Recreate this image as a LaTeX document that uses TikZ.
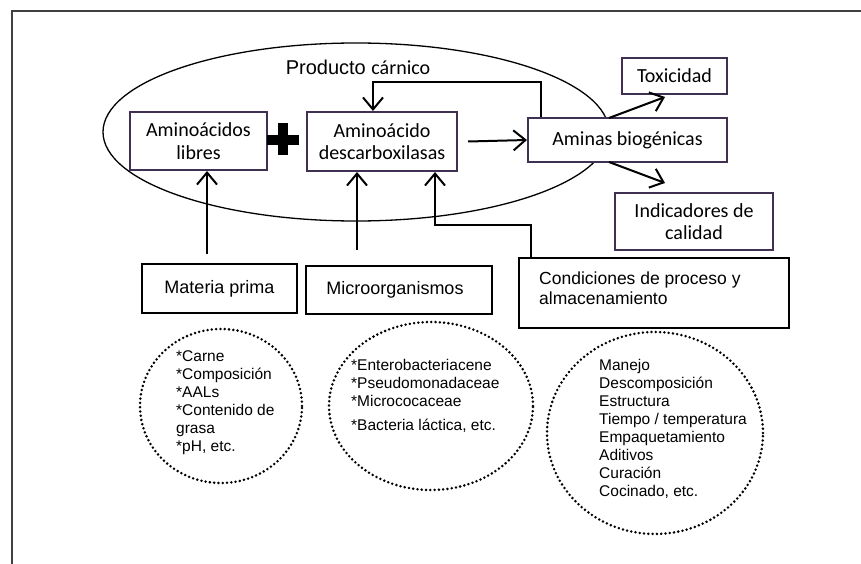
\documentclass[tikz,border=0pt]{standalone}
\usepackage{fontspec}
\setmainfont{Liberation Sans}
\newfontfamily\calfont{Carlito}
\usetikzlibrary{arrows.meta,shapes.geometric,calc}
\definecolor{boxpurple}{RGB}{64,49,82}
\definecolor{framegray}{RGB}{64,64,64}
\begin{document}
\begin{tikzpicture}[x=1pt,y=-1pt,
  topbox/.style={draw=boxpurple, line width=2pt, fill=white, inner sep=0pt, align=center, font=\calfont\fontsize{20}{22.5}\selectfont},
  botbox/.style={draw=black, line width=2pt, fill=white, inner sep=0pt, font=\fontsize{18}{20}\selectfont},
  arr/.style={line width=2pt, -{Straight Barb[length=12pt,width=20pt,line width=2pt]}},
  dots/.style={draw, ellipse, line width=2.8pt, dash pattern=on 0pt off 4.3pt, line cap=round, inner sep=0pt},
  listtext/.style={anchor=north west, inner sep=0pt, align=left, font=\fontsize{15.5}{18}\selectfont}]
\useasboundingbox (0,0) rectangle (861,564);
\draw[framegray, line width=1.5pt] (12,564) -- (12,11) -- (861,11);

% product ellipse
\node[draw, ellipse, line width=1.3pt, minimum width=506pt, minimum height=178pt, inner sep=0pt] (prod) at (356,132) {};
\node[font=\fontsize{20}{24}\selectfont, anchor=base, inner sep=0pt] (prodlbl) at (358,75) {Producto {\calfont cárnico}};

% top boxes
\node[topbox, minimum width=137pt, minimum height=58pt] (lib) at (198.5,141) {Aminoácidos\\libres};
\node[topbox, minimum width=150pt, minimum height=59pt] (dec) at (382,141.5) {Aminoácido\\descarboxilasas};
\node[topbox, minimum width=199pt, minimum height=44pt] (ab) at (627.5,140) {Aminas biogénicas};
\node[topbox, minimum width=105pt, minimum height=36pt] (tox) at (674.5,76) {Toxicidad};
\node[topbox, minimum width=158pt, minimum height=57pt] (ind) at (694,221.5) {Indicadores de\\calidad};

% plus sign
\fill (267,135) rectangle (299,145);
\fill (278,123) rectangle (288,155);

% bottom boxes
\node[botbox, minimum width=155pt, minimum height=49pt] (mp) at (219.5,288.5) {Materia prima};
\node[botbox, minimum width=186pt, minimum height=48pt, inner xsep=0pt, text width=186pt, align=center] (mic) at (399,290) {\hspace*{-8pt}Microorganismos};
\node[botbox, minimum width=270pt, minimum height=70pt] (cond) at (654,293) {};
\node[anchor=north west, inner sep=0pt, align=left, font=\fontsize{17.5}{20}\selectfont] (condt) at (539,272) {Condiciones de proceso y\\almacenamiento};

% connectors
\coordinate (a1) at (207,254);
\draw[arr] (a1) -- (a1 |- lib.south);
\coordinate (a2) at (357,250);
\draw[arr] (a2) -- (a2 |- dec.south);
\coordinate (k1) at (531,225);
\coordinate (k2) at (435,225);
\draw[arr] (k1 |- cond.north) -- (k1) -- (k2) -- (k2 |- dec.south);
\coordinate (f1) at (541,82);
\coordinate (f2) at (373,82);
\draw[arr] (f1 |- ab.north) -- (f1) -- (f2) -- (f2 |- dec.north);
\draw[arr] ([xshift=10pt]dec.east) -- (ab.west);
\coordinate (tx1) at (609,118);
\coordinate (tx2) at (665,97);
\draw[arr] (tx1) -- (tx2);
\coordinate (in1) at (609,162);
\coordinate (in2) at (665,183);
\draw[arr] (in1) -- (in2);

% dotted circles
\node[dots, minimum width=162pt, minimum height=154pt] (e1) at (221,406) {};
\node[dots, minimum width=204pt, minimum height=168pt] (e2) at (431,406) {};
\node[dots, minimum width=216pt, minimum height=202pt] (e3) at (655,433) {};

\node[listtext] (l1) at (176,350) {*Carne\\*Composición\\*AALs\\*Contenido de\\grasa\\*pH, etc.};
\node[listtext] (l2) at (351,359) {*Enterobacteriacene\\*Pseudomonadaceae\\*Micrococaceae\\[6pt]*Bacteria láctica, etc.};
\node[listtext] (l3) at (599,359) {Manejo\\Descomposición\\Estructura\\Tiempo / temperatura\\Empaquetamiento\\Aditivos\\Curación\\Cocinado, etc.};
\end{tikzpicture}
\end{document}
